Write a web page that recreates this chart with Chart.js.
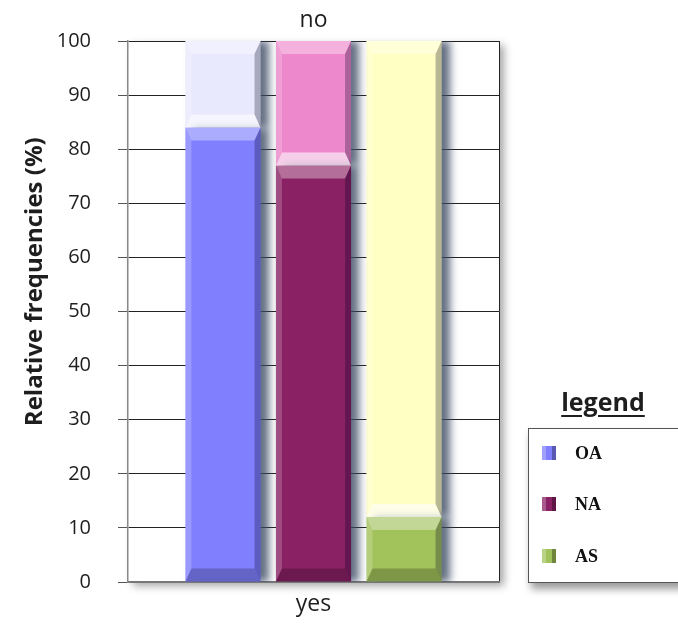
<!DOCTYPE html>
<html>
<head>
<meta charset="utf-8">
<title>Relative frequencies</title>
<script src="https://cdn.jsdelivr.net/npm/chart.js@4.4.1/dist/chart.umd.min.js"></script>
<style>
  html, body { margin: 0; padding: 0; background: #fff; }
  #wrap { position: relative; width: 678px; height: 627px; overflow: hidden; }
  #legendTitle {
    position: absolute; left: 553px; top: 384px; width: 100px; text-align: center;
    font: bold 25px "Open Sans", sans-serif; color: #1e1e1e; text-decoration: underline;
    text-underline-offset: 4px;
  }
  #legendBox {
    position: absolute; left: 528px; top: 428px; width: 170px; height: 153px;
    border: 1px solid #555; background: #fff;
    box-shadow: 3px 6px 8px rgba(0, 0, 0, 0.4);
  }
  .item { position: absolute; left: 13px; height: 20px; display: flex; align-items: center; }
  .swatch { width: 14px; height: 14px; margin-right: 19px; box-sizing: border-box; }
  .item span { font: bold 18px "Liberation Serif", "Times New Roman", serif; color: #111; }
</style>
</head>
<body>
<div id="wrap">
  <canvas id="freqChart" width="678" height="627"></canvas>
  <div id="legendTitle">legend</div>
  <div id="legendBox"></div>
</div>
<script>
// groups, stacked answers (yes at the bottom, no on top)
const groups = ['OA', 'NA', 'AS'];
const yesValues = [84, 77, 12];
const noValues = [16, 23, 88];
const bottomLabels = ['yes'];
const topLabels = ['no'];
const yTicks = [0, 10, 20, 30, 40, 50, 60, 70, 80, 90, 100];
const yTitle = 'Relative frequencies (%)';

const yesColors = ['#8080ff', '#8a2164', '#a2c25c'];
const noColors = ['#e9e9fd', '#ee88cc', '#ffffc4'];

const datasets = [];
groups.forEach((g, i) => {
  datasets.push({
    label: g + ' yes', answer: 'yes', stack: g,
    data: [yesValues[i]], backgroundColor: yesColors[i],
    categoryPercentage: 0.732, barPercentage: 0.83
  });
  datasets.push({
    label: g + ' no', answer: 'no', stack: g,
    data: [noValues[i]], backgroundColor: noColors[i],
    categoryPercentage: 0.732, barPercentage: 0.83
  });
});

// white plot frame with a soft drop shadow, plus the rotated axis title
const framePlugin = {
  id: 'frame',
  beforeDraw(chart) {
    const { ctx, chartArea: a } = chart;
    ctx.save();
    ctx.shadowColor = 'rgba(0, 0, 0, 0.35)';
    ctx.shadowBlur = 8;
    ctx.shadowOffsetX = 5;
    ctx.shadowOffsetY = 4;
    ctx.fillStyle = '#fff';
    ctx.fillRect(a.left, a.top, a.right - a.left, a.bottom - a.top);
    ctx.restore();
    ctx.save();
    ctx.strokeStyle = '#222';
    ctx.lineWidth = 1;
    ctx.beginPath();
    ctx.moveTo(a.right + 0.5, a.top);
    ctx.lineTo(a.right + 0.5, a.bottom);
    ctx.stroke();
    ctx.restore();
  },
  afterDraw(chart) {
    const { ctx, chartArea: a } = chart;
    ctx.save();
    ctx.translate(35, a.top + (a.bottom - a.top) * 0.445);
    ctx.rotate(-Math.PI / 2);
    ctx.font = 'bold 24px "Open Sans"';
    ctx.fillStyle = '#1e1e1e';
    ctx.textAlign = 'center';
    ctx.textBaseline = 'middle';
    ctx.fillText(yTitle, 0, 0);
    ctx.restore();
  }
};

// shadow behind the columns, bevelled edges on every segment
const bevelPlugin = {
  id: 'bevel',
  beforeDatasetsDraw(chart) {
    const ctx = chart.ctx;
    ctx.save();
    ctx.shadowColor = 'rgba(60, 75, 100, 0.8)';
    ctx.shadowBlur = 8;
    ctx.shadowOffsetX = 8;
    ctx.shadowOffsetY = 0;
  },
  afterDatasetsDraw(chart) {
    const ctx = chart.ctx;
    ctx.restore();
    const side = 6, depth = 13;
    chart.data.datasets.forEach((ds, di) => {
      chart.getDatasetMeta(di).data.forEach(bar => {
        const p = bar.getProps(['x', 'y', 'base', 'width'], true);
        const l = p.x - p.width / 2, r = p.x + p.width / 2;
        const t = Math.min(p.y, p.base), b = Math.max(p.y, p.base);
        const quad = (pts, fill) => {
          ctx.beginPath();
          ctx.moveTo(pts[0][0], pts[0][1]);
          for (let k = 1; k < pts.length; k++) ctx.lineTo(pts[k][0], pts[k][1]);
          ctx.closePath();
          ctx.fillStyle = fill;
          ctx.fill();
        };
        ctx.save();
        quad([[l, t], [r, t], [r - side, t + depth], [l + side, t + depth]], 'rgba(255,255,255,0.35)');
        quad([[l, b], [r, b], [r - side, b - depth], [l + side, b - depth]],
          ds.answer === 'no' ? 'rgba(255,255,255,0.6)' : 'rgba(0,0,0,0.22)');
        quad([[l, t], [l + side, t + depth], [l + side, b - depth], [l, b]], 'rgba(255,255,255,0.2)');
        quad([[r, t], [r - side, t + depth], [r - side, b - depth], [r, b]], 'rgba(0,0,30,0.28)');
        ctx.restore();
      });
    });
  }
};

const freqChart = new Chart(document.getElementById('freqChart').getContext('2d'), {
  type: 'bar',
  data: { labels: bottomLabels, datasets: datasets },
  options: {
    responsive: false,
    animation: false,
    layout: { padding: { left: 0, right: 179, top: 0, bottom: 0 } },
    plugins: { legend: { display: false }, tooltip: { enabled: false } },
    scales: {
      x: {
        stacked: true,
        grid: { display: false, drawTicks: false },
        border: { color: '#777', width: 2 },
        ticks: { padding: 9, color: '#1e1e1e', font: { family: 'Open Sans', size: 23 } },
        afterFit(s) { s.height = 45; }
      },
      x2: {
        type: 'category',
        labels: topLabels,
        position: 'top',
        offset: true,
        grid: { display: false, drawTicks: false },
        border: { display: false },
        ticks: { padding: 7, color: '#1e1e1e', font: { family: 'Open Sans', size: 23 } },
        afterFit(s) { s.height = 41; }
      },
      y: {
        stacked: true,
        min: 0,
        max: 100,
        afterBuildTicks(s) { s.ticks = yTicks.map(v => ({ value: v })); },
        grid: { color: '#222', tickColor: '#555', tickLength: 10 },
        border: { color: '#888', width: 1.5 },
        ticks: { padding: 27, color: '#1e1e1e', font: { family: 'Open Sans', size: 20 } },
        afterFit(s) { s.width = 128; }
      }
    }
  },
  plugins: [framePlugin, bevelPlugin]
});

// legend entries for the "yes" colours
const legendBox = document.getElementById('legendBox');
const itemTops = [14, 65, 117];
groups.forEach((g, i) => {
  const item = document.createElement('div');
  item.className = 'item';
  item.style.top = itemTops[i] + 'px';
  const sw = document.createElement('div');
  sw.className = 'swatch';
  sw.style.background = yesColors[i];
  sw.style.borderLeft = '4px solid rgba(255,255,255,0.25)';
  sw.style.borderRight = '4px solid rgba(0,0,0,0.3)';
  const label = document.createElement('span');
  label.textContent = g;
  item.appendChild(sw);
  item.appendChild(label);
  legendBox.appendChild(item);
});
</script>
</body>
</html>
